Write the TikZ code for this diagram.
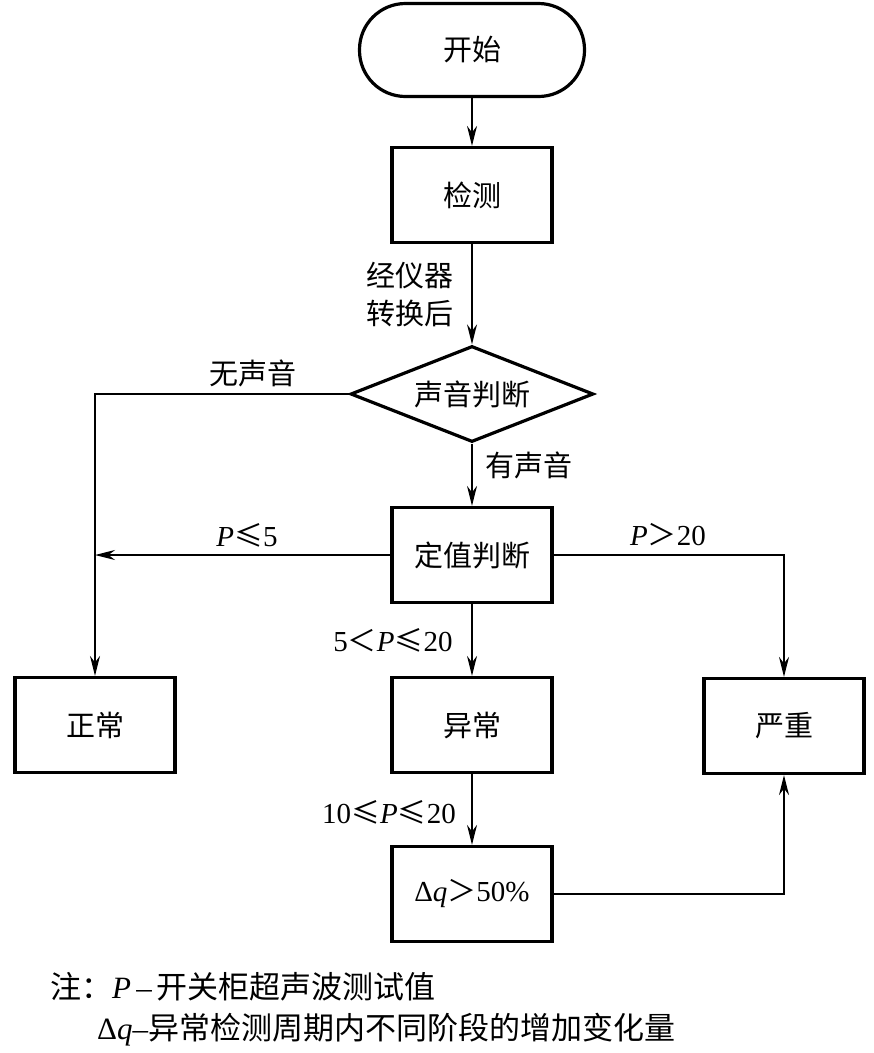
\documentclass[tikz,border=0pt]{standalone}
\usepackage{fontspec}
\setmainfont{Liberation Serif}
\newfontfamily\cjk{Noto Sans CJK SC}
\newcommand\lat[1]{{\rmfamily #1}}
\usetikzlibrary{arrows.meta,shapes.geometric}
\begin{document}
\begin{tikzpicture}[x=1pt,y=-1pt,
  every node/.style={font=\fontsize{29}{38}\selectfont\cjk, inner sep=0pt},
  proc/.style={draw, line width=3.2pt, minimum width=160pt, minimum height=95pt},
  conn/.style={line width=1.8pt},
  arr/.style={conn, -{Stealth[length=20pt,width=10pt]}},
  lbl/.style={},
  note/.style={font=\fontsize{31}{36}\selectfont\cjk, anchor=west},
]
\useasboundingbox (0,0) rectangle (874,1053);
\node[draw, line width=3.2pt, minimum width=225pt, minimum height=93pt, rounded corners=46pt] (start) at (472,50) {开始};
\node[proc] (detect) at (472,195) {检测};
\node[draw, diamond, aspect=2.5, line width=3.2pt, minimum width=243pt, minimum height=96pt] (judge) at (472,394) {声音判断};
\node[proc] (value) at (472,555) {定值判断};
\node[proc] (normal) at (95,725) {正常};
\node[proc] (abn) at (472,725) {异常};
\node[proc] (severe) at (784,726) {严重};
\node[proc] (dq) at (472,894) {\lat{Δ\textit{q}}＞\lat{50\%}};

\draw[arr] (start) -- (detect);
\draw[arr] (detect) -- (judge);
\draw[arr] (judge.west) -| (normal.north);
\draw[arr] (judge) -- (value);
\draw[arr] (value.west) -- (value.west -| normal.north);
\draw[arr] (value.east) -| (severe.north);
\draw[arr] (value) -- (abn);
\draw[arr] (abn) -- (dq);
\draw[arr] (dq.east) -| (severe.south);

\node[lbl, align=center] (l1) at (410,295) {经仪器\\转换后};
\node[lbl] (l2) at (253,373) {无声音};
\node[lbl] (l3) at (529,465) {有声音};
\node[lbl] (l4) at (247,535) {\lat{\textit{P}}≤\lat{5}};
\node[lbl] (l5) at (668,535) {\lat{\textit{P}}＞\lat{20}};
\node[lbl] (l6) at (393,640) {\lat{5}＜\lat{\textit{P}}≤\lat{20}};
\node[lbl] (l7) at (389,812) {\lat{10}≤\lat{\textit{P}}≤\lat{20}};
\node[note] (n1) at (50,987) {注：\lat{\textit{P}\,–\,}开关柜超声波测试值};
\node[note] (n2) at (97,1030) {\lat{Δ\textit{q}–}异常检测周期内不同阶段的增加变化量};
\end{tikzpicture}
\end{document}
